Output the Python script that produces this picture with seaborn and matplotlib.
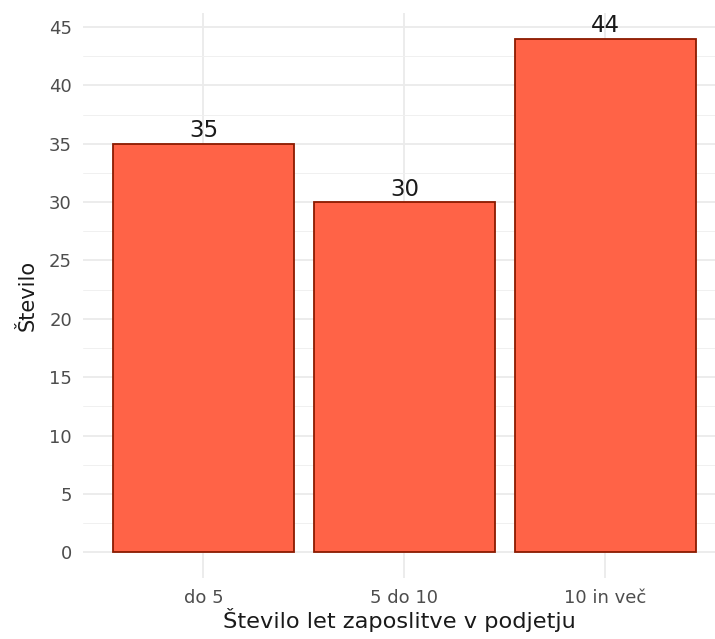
import matplotlib
matplotlib.use("Agg")
import matplotlib.pyplot as plt
import seaborn as sns
import pandas as pd
from matplotlib.ticker import MultipleLocator

categories = ["do 5", "5 do 10", "10 in več"]
values = [35, 30, 44]
yticks = [0, 5, 10, 15, 20, 25, 30, 35, 40, 45]

df = pd.DataFrame({"cat": categories, "n": values})

sns.set_theme(style="white")
plt.rcParams['font.family'] = ['DejaVu Sans']

fig = plt.figure(figsize=(7.15, 6.39), dpi=100)
ax = fig.add_axes([83/715, 1 - 578/639, 1 - 83/715, (578 - 13)/639])

sns.barplot(data=df, x="cat", y="n", ax=ax, color="#FF6347", saturation=1,
            edgecolor="#8B1A00", linewidth=1.3, width=0.9, zorder=3)

ax.set_xlim(-0.6, 2.547)
ax.set_ylim(-2.2, 46.2)
ax.set_yticks(yticks)
ax.yaxis.set_minor_locator(MultipleLocator(2.5))
ax.grid(which="major", color="#EBEBEB", linewidth=1.3, zorder=0)
ax.grid(which="minor", axis="y", color="#F0F0F0", linewidth=0.7, zorder=0)
ax.set_axisbelow(True)
for s in ax.spines.values():
    s.set_visible(False)
ax.tick_params(axis="both", which="both", length=0, labelsize=13, labelcolor="#4D4D4D")
ax.tick_params(axis="y", pad=8)
ax.tick_params(axis="x", pad=8)

for c in ax.containers:
    ax.bar_label(c, labels=[str(v) for v in values], padding=1, fontsize=16.5, color="#1A1A1A")

ax.set_xlabel("Število let zaposlitve v podjetju", fontsize=16.2, color="#1A1A1A", labelpad=1)
ax.set_ylabel("Število", fontsize=15, color="#1A1A1A", labelpad=8)

fig.savefig("out.png", dpi=100)
